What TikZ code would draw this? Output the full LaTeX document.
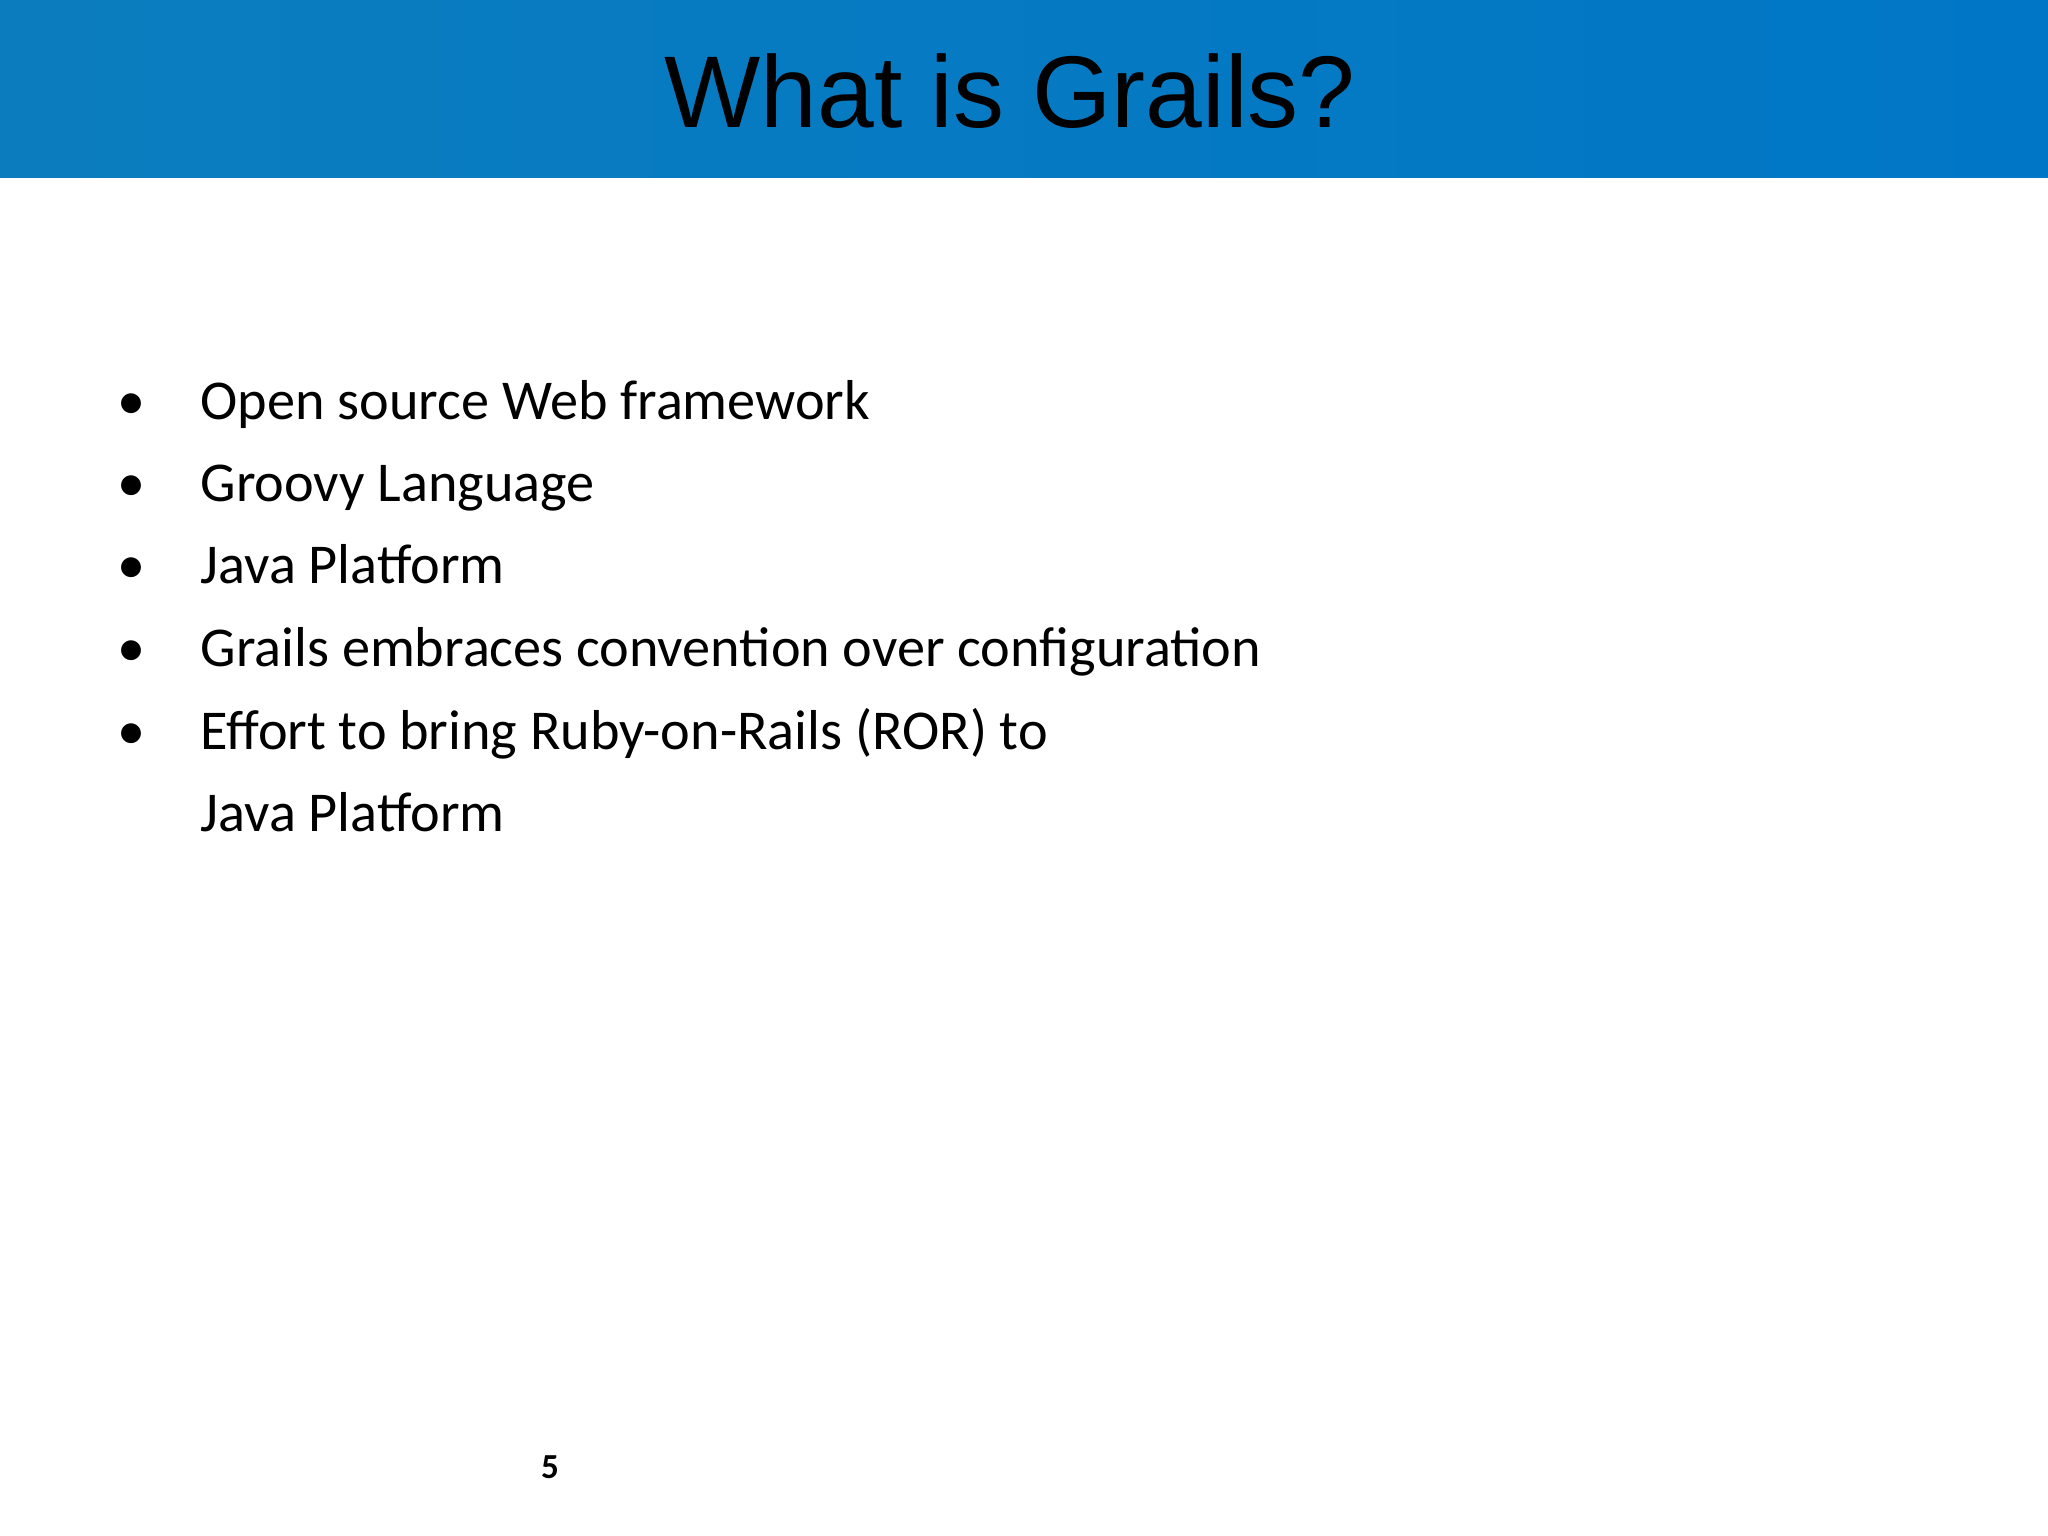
\documentclass[tikz,border=0pt]{standalone}
\usepackage{fontspec}
\setmainfont{Carlito}
\newfontfamily\arialf{Liberation Sans}
\definecolor{bandL}{HTML}{0B7DBF}
\definecolor{bandR}{HTML}{0077C6}
\tikzset{
  bulletitem/.style={anchor=base west, inner sep=0pt, font=\fontsize{16}{19}\selectfont},
  bulletdot/.style={anchor=base, inner sep=0pt, font=\fontsize{16}{19}\selectfont}
}
\begin{document}
\begin{tikzpicture}[x=1cm,y=1cm]
\useasboundingbox (0,0) rectangle (20.48,-15.36);
\fill[white] (0,0) rectangle (20.48,-15.36);
\shade[left color=bandL, right color=bandR] (0,0) rectangle (20.48,-1.78);
\node[font=\arialf\fontsize{29}{34}\selectfont, text=black, inner sep=0pt] (title) at (10.10,-0.91) {What is Grails?};
\foreach \i/\y/\t in {1/4.20/Open source Web framework, 2/5.02/Groovy Language, 3/5.84/Java Platform, 4/6.66/Grails embraces convention over configuration, 5/7.49/Effort to bring Ruby-on-Rails (ROR) to}{
  \node[bulletdot] (b\i) at (1.32,-\y) {\textbullet};
  \node[bulletitem] (t\i) at (2.00,-\y) {\t};
}
\node[bulletitem] (t6) at (2.00,-8.31) {Java Platform};
\node[font=\bfseries\fontsize{10}{12}\selectfont, inner sep=0pt] (pg) at (5.50,-14.67) {5};
\end{tikzpicture}
\end{document}
